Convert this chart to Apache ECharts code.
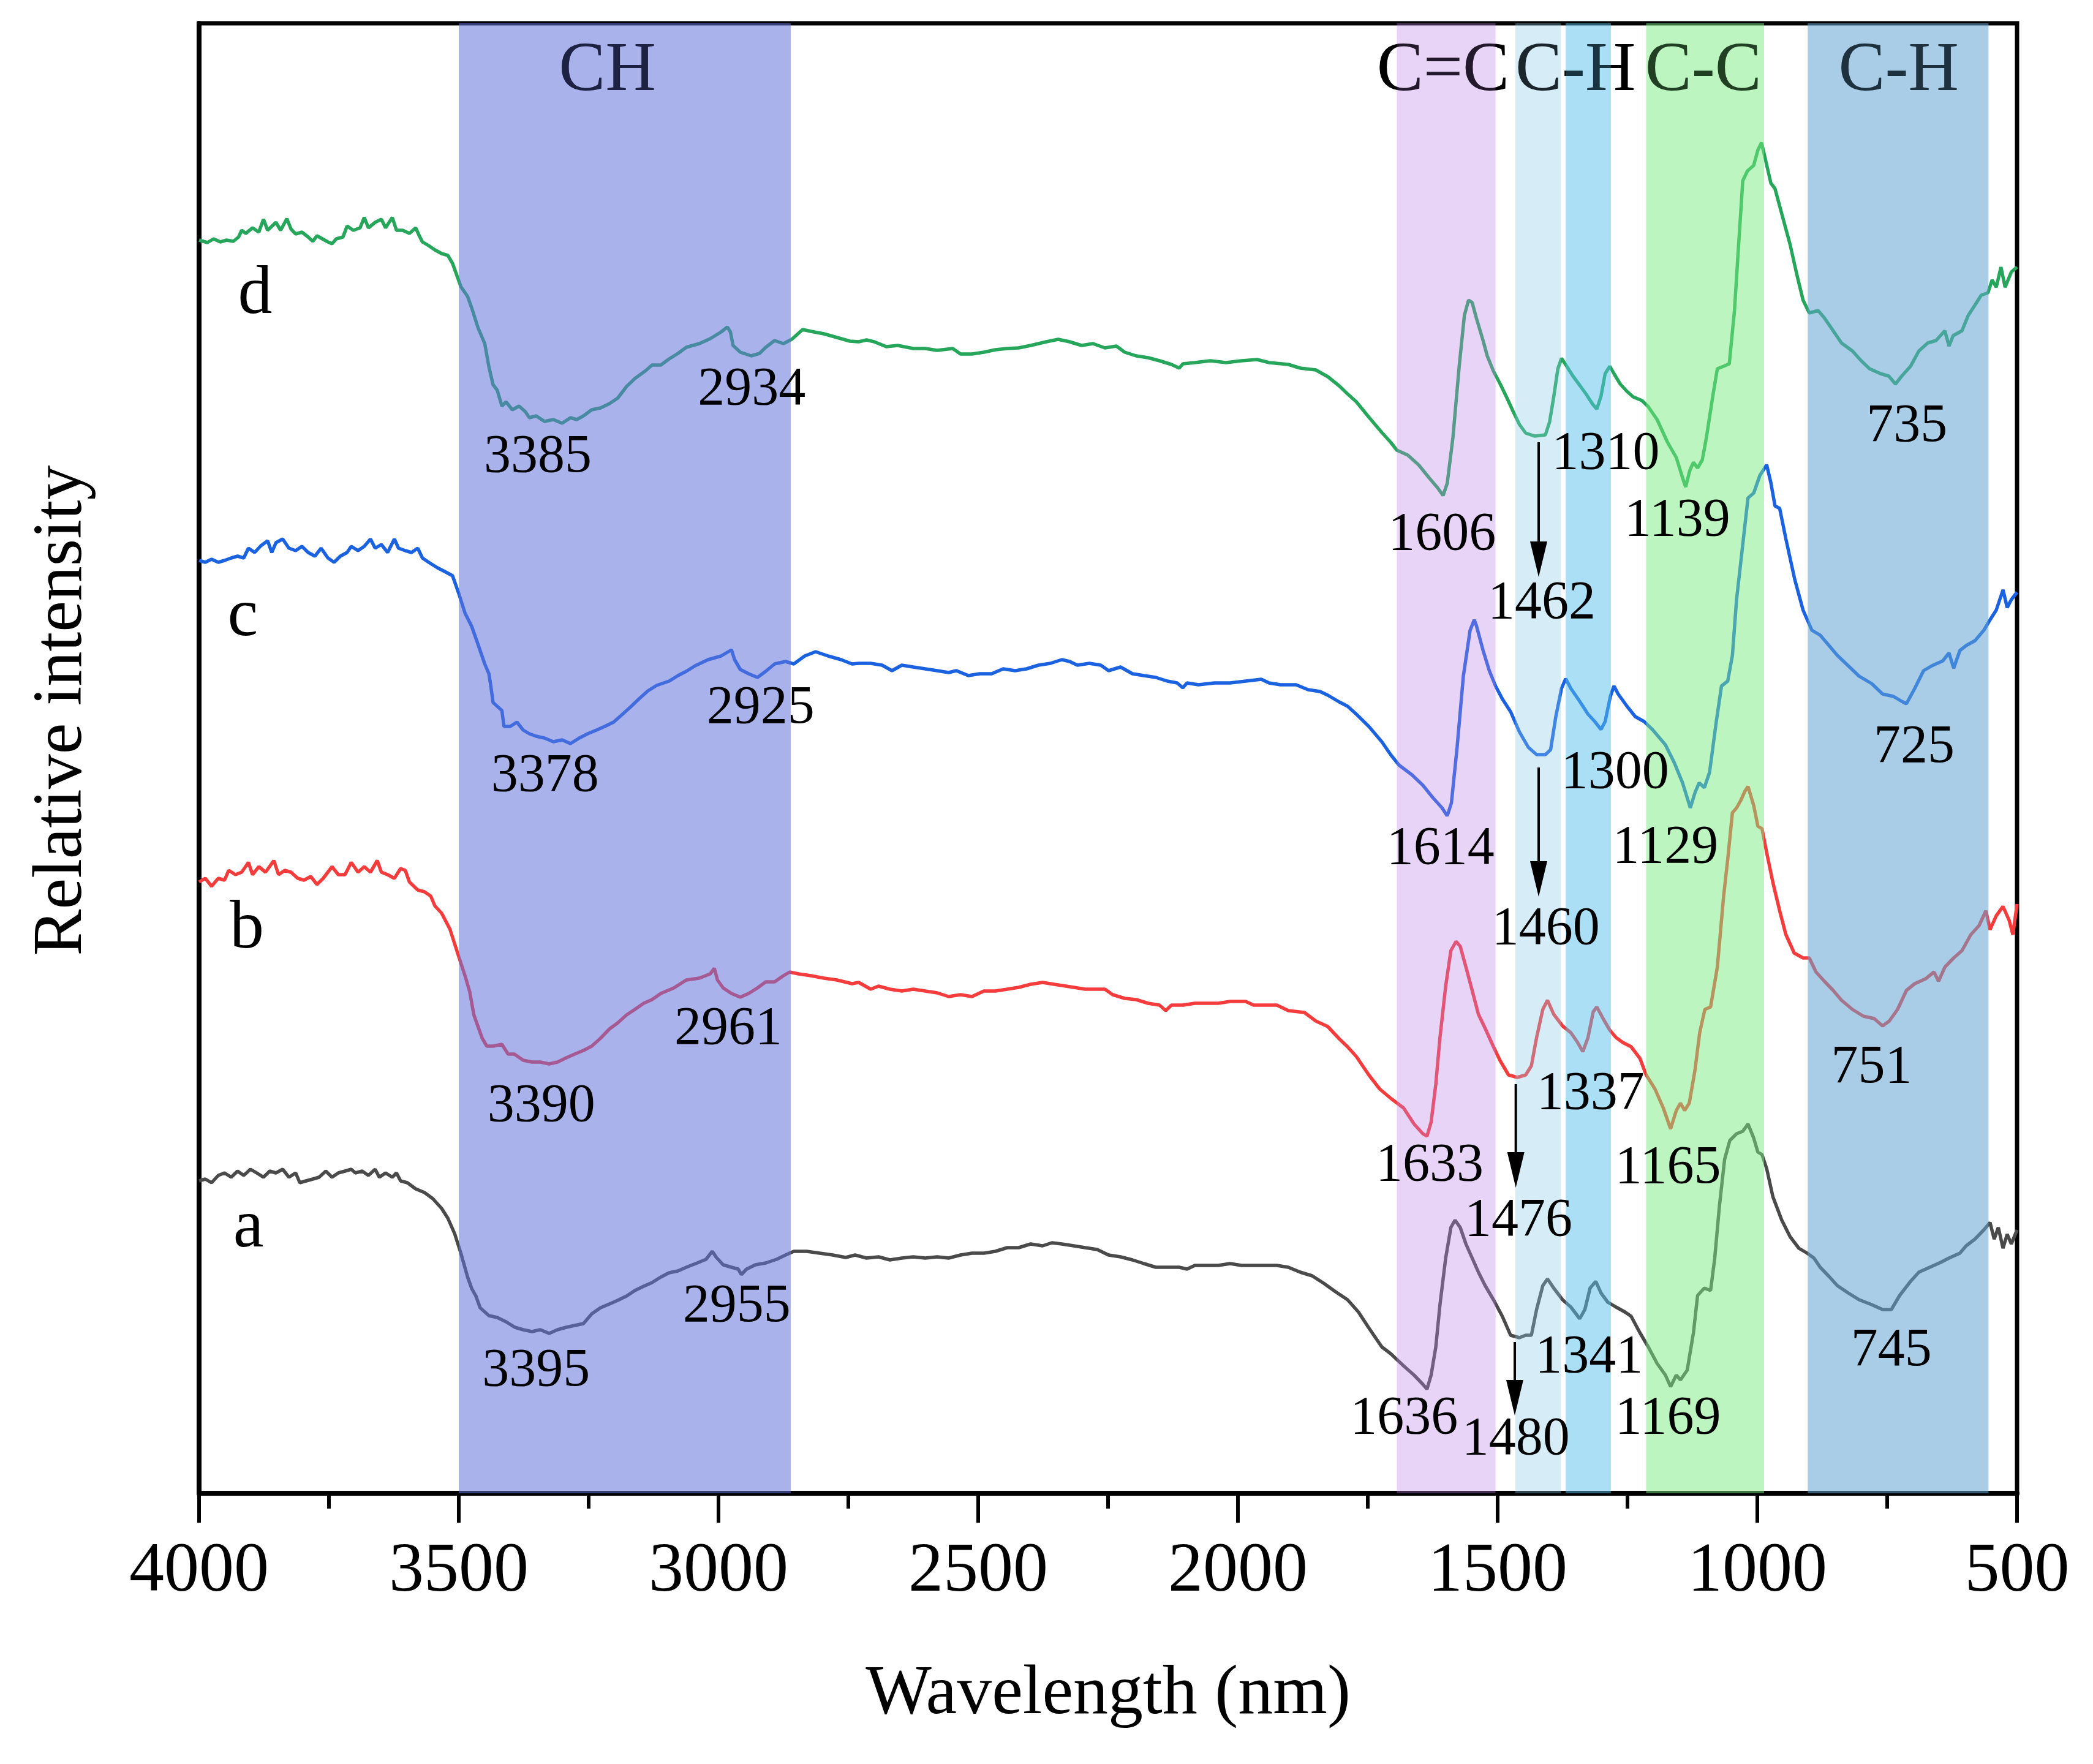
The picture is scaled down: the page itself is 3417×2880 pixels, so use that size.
<!DOCTYPE html>
<html>
<head>
<meta charset="utf-8">
<script src="https://cdn.jsdelivr.net/npm/echarts@6/dist/echarts.min.js"></script>
<style>
html,body{margin:0;padding:0;background:#fff;}
#chart{width:3417px;height:2880px;}
</style>
</head>
<body>
<div id="chart"></div>
<script>
// ---------------- DATA ----------------
// Wavelength (nm) and relative intensity (a.u.).
const curveD = [[4000,2046],[3984,2042],[3972,2048],[3959,2043],[3947,2046],[3934,2044],[3924,2051],[3918,2062],[3910,2057],[3897,2066],[3885,2059],[3876,2080],[3868,2062],[3852,2075],[3843,2062],[3831,2081],[3823,2064],[3814,2056],[3802,2059],[3790,2051],[3781,2044],[3773,2053],[3752,2043],[3744,2040],[3736,2048],[3723,2051],[3715,2069],[3703,2062],[3690,2066],[3682,2083],[3674,2066],[3661,2075],[3649,2080],[3641,2066],[3628,2083],[3620,2062],[3608,2062],[3595,2057],[3583,2066],[3576,2053],[3570,2043],[3558,2037],[3546,2030],[3533,2024],[3521,2021],[3512,2008],[3504,1989],[3496,1970],[3483,1954],[3475,1935],[3463,1903],[3450,1877],[3442,1839],[3434,1810],[3426,1801],[3417,1775],[3409,1782],[3397,1769],[3384,1775],[3372,1766],[3364,1756],[3351,1759],[3335,1750],[3318,1753],[3301,1747],[3285,1756],[3273,1753],[3260,1759],[3244,1769],[3227,1772],[3210,1779],[3194,1788],[3177,1807],[3161,1820],[3140,1833],[3128,1842],[3111,1842],[3095,1852],[3078,1861],[3062,1871],[3037,1877],[3016,1885],[2995,1896],[2983,1904],[2977,1896],[2972,1874],[2958,1863],[2937,1857],[2921,1861],[2909,1871],[2892,1882],[2875,1877],[2859,1884],[2838,1900],[2822,1897],[2797,1893],[2772,1887],[2747,1881],[2730,1880],[2715,1883],[2700,1880],[2677,1872],[2655,1874],[2625,1869],[2602,1869],[2579,1866],[2549,1869],[2534,1860],[2512,1860],[2489,1863],[2467,1867],[2444,1869],[2422,1870],[2399,1874],[2369,1880],[2346,1884],[2324,1880],[2301,1874],[2279,1877],[2256,1870],[2234,1873],[2218,1863],[2196,1857],[2173,1854],[2151,1849],[2128,1843],[2113,1837],[2106,1844],[2083,1846],[2053,1849],[2023,1846],[1993,1849],[1963,1851],[1940,1846],[1903,1843],[1880,1837],[1850,1834],[1827,1823],[1805,1808],[1789,1795],[1772,1782],[1748,1757],[1723,1732],[1706,1716],[1694,1703],[1673,1695],[1652,1679],[1632,1658],[1615,1641],[1605,1629],[1597,1649],[1586,1724],[1574,1840],[1564,1923],[1556,1948],[1549,1944],[1541,1919],[1528,1882],[1520,1857],[1508,1832],[1495,1811],[1483,1790],[1470,1766],[1458,1745],[1446,1731],[1429,1726],[1408,1728],[1400,1749],[1392,1790],[1384,1836],[1377,1853],[1367,1840],[1355,1824],[1342,1809],[1330,1795],[1317,1778],[1309,1770],[1301,1791],[1293,1828],[1284,1840],[1276,1828],[1264,1811],[1251,1799],[1239,1790],[1222,1784],[1210,1774],[1193,1753],[1173,1716],[1156,1691],[1144,1658],[1138,1643],[1130,1670],[1123,1683],[1115,1674],[1106,1687],[1098,1724],[1086,1790],[1077,1836],[1065,1840],[1054,1844],[1044,1931],[1036,2039],[1028,2143],[1019,2159],[1007,2168],[999,2193],[992,2205],[985,2180],[974,2139],[966,2130],[953,2089],[937,2039],[924,1990],[912,1948],[900,1927],[883,1931],[871,1919],[854,1898],[838,1878],[817,1865],[800,1849],[784,1836],[763,1828],[747,1824],[734,1811],[722,1824],[705,1840],[689,1865],[672,1878],[656,1882],[639,1898],[631,1873],[623,1890],[606,1898],[594,1923],[581,1940],[569,1956],[556,1960],[548,1981],[540,1969],[531,2002],[523,1969],[511,1994],[500,2002]];

const curveC = [[4000,1523],[3988,1520],[3976,1525],[3963,1520],[3951,1523],[3938,1527],[3926,1530],[3914,1527],[3905,1543],[3893,1536],[3881,1547],[3868,1555],[3860,1536],[3852,1552],[3839,1558],[3827,1543],[3814,1539],[3802,1546],[3790,1536],[3777,1530],[3765,1543],[3752,1527],[3740,1520],[3728,1530],[3715,1536],[3707,1546],[3694,1539],[3682,1546],[3670,1558],[3661,1543],[3649,1549],[3637,1536],[3624,1558],[3616,1543],[3603,1539],[3591,1536],[3579,1543],[3570,1527],[3558,1520],[3541,1511],[3525,1504],[3512,1498],[3500,1469],[3488,1437],[3475,1415],[3463,1386],[3450,1354],[3442,1338],[3438,1316],[3434,1291],[3417,1278],[3413,1252],[3401,1252],[3388,1259],[3376,1246],[3364,1240],[3351,1236],[3335,1233],[3318,1227],[3301,1230],[3285,1224],[3268,1233],[3252,1240],[3235,1246],[3219,1252],[3202,1259],[3186,1271],[3169,1284],[3153,1297],[3136,1310],[3119,1319],[3095,1326],[3078,1335],[3062,1342],[3045,1351],[3020,1361],[2995,1367],[2975,1377],[2969,1361],[2958,1345],[2942,1338],[2925,1332],[2909,1342],[2892,1354],[2871,1358],[2855,1354],[2834,1367],[2813,1374],[2789,1367],[2764,1361],[2743,1354],[2730,1355],[2707,1355],[2685,1352],[2666,1343],[2647,1352],[2625,1349],[2602,1346],[2579,1343],[2557,1340],[2542,1343],[2519,1335],[2497,1338],[2474,1338],[2452,1346],[2429,1343],[2407,1346],[2384,1352],[2361,1355],[2339,1361],[2324,1358],[2309,1352],[2286,1355],[2264,1352],[2249,1343],[2226,1349],[2203,1338],[2181,1335],[2158,1332],[2136,1326],[2117,1323],[2106,1315],[2098,1323],[2076,1320],[2045,1323],[2015,1323],[1985,1326],[1955,1329],[1940,1323],[1918,1320],[1888,1320],[1865,1312],[1842,1309],[1827,1303],[1805,1292],[1789,1285],[1772,1272],[1748,1252],[1723,1227],[1706,1206],[1690,1189],[1665,1173],[1644,1156],[1624,1135],[1607,1119],[1597,1106],[1589,1127],[1578,1218],[1566,1334],[1553,1409],[1545,1426],[1541,1417],[1528,1376],[1516,1343],[1504,1318],[1491,1297],[1475,1276],[1458,1243],[1441,1218],[1425,1206],[1408,1206],[1398,1214],[1388,1268],[1377,1314],[1369,1330],[1359,1314],[1342,1293],[1326,1272],[1313,1260],[1301,1247],[1293,1260],[1283,1301],[1276,1318],[1268,1305],[1251,1285],[1235,1268],[1218,1260],[1202,1247],[1177,1222],[1160,1193],[1144,1160],[1129,1119],[1120,1144],[1112,1160],[1102,1152],[1092,1177],[1079,1260],[1069,1318],[1057,1326],[1048,1368],[1040,1459],[1029,1542],[1018,1625],[1007,1633],[995,1662],[982,1679],[974,1650],[966,1612],[957,1608],[945,1558],[928,1492],[912,1442],[895,1409],[879,1401],[862,1384],[846,1368],[825,1351],[804,1334],[780,1322],[759,1305],[738,1301],[722,1293],[713,1289],[697,1314],[680,1343],[664,1351],[643,1359],[631,1372],[622,1347],[610,1376],[598,1384],[581,1392],[564,1409],[552,1426],[540,1442],[527,1475],[519,1446],[511,1459],[500,1471]];

const curveB = [[4000,998],[3988,1004],[3976,991],[3963,1004],[3951,1001],[3943,1017],[3930,1010],[3918,1014],[3905,1030],[3897,1010],[3885,1023],[3872,1014],[3856,1033],[3847,1010],[3835,1017],[3823,1014],[3810,1004],[3798,1001],[3785,1007],[3773,994],[3761,1004],[3744,1023],[3732,1010],[3719,1010],[3707,1030],[3694,1014],[3682,1023],[3670,1014],[3657,1033],[3649,1014],[3637,1010],[3624,1004],[3612,1020],[3603,1017],[3595,998],[3579,985],[3566,982],[3554,975],[3546,959],[3533,947],[3517,921],[3500,876],[3488,845],[3479,819],[3471,781],[3463,762],[3455,743],[3446,730],[3434,730],[3417,733],[3405,717],[3393,717],[3376,707],[3359,704],[3343,704],[3326,701],[3310,704],[3293,711],[3277,717],[3260,723],[3244,730],[3227,743],[3210,758],[3194,768],[3177,781],[3161,790],[3144,800],[3128,806],[3111,816],[3086,825],[3062,838],[3037,841],[3016,848],[3008,857],[3002,838],[2991,825],[2975,816],[2958,810],[2942,816],[2925,825],[2909,835],[2892,835],[2875,845],[2863,851],[2846,848],[2822,845],[2797,841],[2772,838],[2743,832],[2730,834],[2707,823],[2692,828],[2670,823],[2647,820],[2625,823],[2602,820],[2579,817],[2557,811],[2534,814],[2512,811],[2489,820],[2467,820],[2444,823],[2422,826],[2399,831],[2376,834],[2354,831],[2331,828],[2316,826],[2294,823],[2271,823],[2256,823],[2241,814],[2218,808],[2196,806],[2173,800],[2151,797],[2139,788],[2128,797],[2106,797],[2083,800],[2060,800],[2038,800],[2015,803],[1985,803],[1970,797],[1948,797],[1925,797],[1903,788],[1872,785],[1850,771],[1827,762],[1805,742],[1789,729],[1772,713],[1748,683],[1727,660],[1706,645],[1681,629],[1661,603],[1644,587],[1636,583],[1628,606],[1619,668],[1611,744],[1600,828],[1590,886],[1580,901],[1572,893],[1561,859],[1549,821],[1537,782],[1524,759],[1508,729],[1495,706],[1479,683],[1462,679],[1446,683],[1435,698],[1425,744],[1413,790],[1404,805],[1392,782],[1375,763],[1359,752],[1346,736],[1336,721],[1326,744],[1316,786],[1309,794],[1297,775],[1284,756],[1272,744],[1259,736],[1243,729],[1226,710],[1214,683],[1197,660],[1181,629],[1167,595],[1156,625],[1148,637],[1140,625],[1131,637],[1120,691],[1111,752],[1101,790],[1090,794],[1077,859],[1065,974],[1057,1035],[1048,1111],[1040,1119],[1032,1131],[1024,1146],[1018,1154],[1007,1123],[999,1089],[991,1085],[982,1046],[970,997],[957,951],[945,912],[929,882],[912,874],[900,874],[887,851],[871,836],[854,821],[838,805],[817,790],[796,779],[775,775],[759,763],[746,771],[730,790],[713,821],[697,832],[676,840],[660,851],[651,836],[639,859],[622,874],[606,886],[589,912],[573,927],[560,951],[552,920],[540,943],[527,958],[515,935],[508,912],[500,962]];

const curveA = [[4000,510],[3988,513],[3976,507],[3963,519],[3951,523],[3938,516],[3926,526],[3914,519],[3901,529],[3889,523],[3876,516],[3864,526],[3852,523],[3839,529],[3827,516],[3814,523],[3806,507],[3794,510],[3781,513],[3769,516],[3756,526],[3744,516],[3732,523],[3719,526],[3707,529],[3699,523],[3686,526],[3674,519],[3661,529],[3653,516],[3641,523],[3628,516],[3620,523],[3612,510],[3599,507],[3583,497],[3566,491],[3550,481],[3533,465],[3521,449],[3508,424],[3496,392],[3483,353],[3475,334],[3467,322],[3459,303],[3442,290],[3426,287],[3409,280],[3392,271],[3376,267],[3359,264],[3343,267],[3326,261],[3310,267],[3293,271],[3277,274],[3260,277],[3244,293],[3227,303],[3210,309],[3194,315],[3177,322],[3161,331],[3144,338],[3128,344],[3111,353],[3095,360],[3078,363],[3062,369],[3041,376],[3024,382],[3012,395],[3004,385],[2991,373],[2975,369],[2962,366],[2956,357],[2946,366],[2929,373],[2909,376],[2888,382],[2871,389],[2855,395],[2830,395],[2805,392],[2780,389],[2755,385],[2737,389],[2715,384],[2692,386],[2670,381],[2647,384],[2625,386],[2602,384],[2579,386],[2557,384],[2534,389],[2512,392],[2489,392],[2467,395],[2444,401],[2422,401],[2399,407],[2376,404],[2358,409],[2339,407],[2316,404],[2294,401],[2271,398],[2249,389],[2226,386],[2203,381],[2181,375],[2158,369],[2136,369],[2113,369],[2098,366],[2083,372],[2060,372],[2038,372],[2015,375],[1993,372],[1970,372],[1948,372],[1925,372],[1903,369],[1880,361],[1857,355],[1835,343],[1812,329],[1789,316],[1768,296],[1748,270],[1723,239],[1706,228],[1681,208],[1661,193],[1644,178],[1636,170],[1628,193],[1619,239],[1611,308],[1600,384],[1590,434],[1582,446],[1572,434],[1561,407],[1549,384],[1537,361],[1524,339],[1508,316],[1491,289],[1475,258],[1458,254],[1446,258],[1435,258],[1425,300],[1413,339],[1404,350],[1392,335],[1375,316],[1359,304],[1342,285],[1332,300],[1322,335],[1311,346],[1301,327],[1288,312],[1272,304],[1255,296],[1243,289],[1226,262],[1210,239],[1193,212],[1177,193],[1167,174],[1156,193],[1148,185],[1135,201],[1123,262],[1115,323],[1102,335],[1090,331],[1082,384],[1073,469],[1063,545],[1053,576],[1040,587],[1028,591],[1018,603],[1007,580],[999,557],[991,553],[982,530],[970,484],[953,446],[937,419],[920,400],[904,392],[891,384],[879,369],[862,354],[846,339],[825,327],[804,316],[780,308],[759,300],[742,300],[726,323],[705,346],[689,361],[668,369],[647,377],[631,384],[610,392],[598,404],[581,415],[564,430],[552,442],[544,415],[536,434],[527,400],[519,423],[511,407],[500,430]];

// Absorption bands: [name, from (nm), to (nm)]
const bandNames = ['CH', 'C=C', 'C-H', '', 'C-C', 'C-H'];
const bandFrom  = [3500, 1694, 1466, 1369, 1214, 903];
const bandTo    = [2861, 1504, 1378, 1282, 987, 555];
// band label anchor (wavelength, intensity)
const bandLabelW = [3214, 1605, 1350, null, 1104, 728];
const bandLabelV = 2321;

// Peak annotations: [text, wavelength, intensity]
const peakLabels = [
  ['3385',3348,1691],['2934',2936,1801],['1606',1607,1564],['1310',1292,1696],['1462',1415,1452],['1139',1154,1587],['735',712,1741],
  ['3378',3334,1170],['2925',2919,1281],['1614',1610,1051],['1300',1274,1175],['1460',1407,920],['1129',1177,1053],['725',698,1217],
  ['3390',3341,631],['2961',2981,757],['1633',1631,534],['1337',1321,651],['1476',1460,444],['1165',1172,530],['751',780,694],
  ['3395',3351,199],['2955',2965,304],['1636',1680,121],['1480',1465,87],['1341',1324,221],['1169',1172,121],['745',742,232]
];
// Curve names: [text, wavelength, intensity]
const curveLabels = [['d',3892,1956],['c',3916,1430],['b',3908,920],['a',3905,432]];
// Arrows: [wavelength, intensity at tail, intensity at tip]
const arrows = [[1421,1716,1496],[1421,1185,974],[1465,668,499],[1467,247,127]];

// ---------------- STYLE ----------------
const FONT = "'Liberation Serif','Times New Roman',serif";
const bandFill = ['rgba(101,115,220,0.55)','rgba(189,132,229,0.35)','rgba(138,201,232,0.35)','rgba(87,191,235,0.5)','rgba(121,235,127,0.5)','rgba(99,164,210,0.55)'];

const chart = echarts.init(document.getElementById('chart'), null, {renderer:'canvas'});

function textSeries(items, size, z, fill) {
  return {
    type:'custom', z:z, silent:true, clip:false,
    data: items.map(t => [t[1], t[2]]),
    encode:{x:0, y:1},
    renderItem:(params, api) => {
      const p = api.coord([api.value(0), api.value(1)]);
      return {type:'text', x:p[0], y:p[1],
        style:{text:items[params.dataIndex][0], fontSize:size, fontFamily:FONT, fill:fill || '#000', align:'center', verticalAlign:'middle'}};
    }
  };
}

const bandLabelItems = [];
bandNames.forEach((n,i)=>{ if(n) bandLabelItems.push([n, bandLabelW[i], bandLabelV]); });

const option = {
  animation:false,
  backgroundColor:'#fff',
  grid:{left:325, right:124, top:38, bottom:442, show:true, borderColor:'#000', borderWidth:7, backgroundColor:'transparent'},
  xAxis:{
    type:'value', inverse:true, min:500, max:4000, interval:500,
    name:'Wavelength (nm)', nameLocation:'middle', nameGap:272,
    nameTextStyle:{fontSize:114, fontFamily:FONT, color:'#000'},
    axisLine:{onZero:false, lineStyle:{color:'#000', width:8}},
    axisTick:{show:true, length:48, lineStyle:{color:'#000', width:6}},
    minorTick:{show:true, splitNumber:2, length:25, lineStyle:{color:'#000', width:6}},
    axisLabel:{fontSize:114, fontFamily:FONT, color:'#000', margin:72, formatter:(v)=>String(v)},
    splitLine:{show:false}
  },
  yAxis:{
    type:'value', min:0, max:2400,
    axisLine:{show:true, onZero:false, lineStyle:{color:'#000', width:8}},
    axisTick:{show:false}, axisLabel:{show:false}, splitLine:{show:false}
  },
  graphic:[{type:'text', x:102, y:1160, rotation:Math.PI/2,
    style:{text:'Relative intensity', fontSize:114, fontFamily:FONT, fill:'#000', align:'center', verticalAlign:'middle'}}],
  series:[
    {type:'line', name:'a', data:curveA, showSymbol:false, z:2, lineStyle:{color:'#4a4a4a', width:5.5}},
    {type:'line', name:'b', data:curveB, showSymbol:false, z:2, lineStyle:{color:'#f53c3c', width:5.5}},
    {type:'line', name:'c', data:curveC, showSymbol:false, z:2, lineStyle:{color:'#1a62e0', width:5.5}},
    {type:'line', name:'d', data:curveD, showSymbol:false, z:2, lineStyle:{color:'#26a65b', width:5.5}},
    textSeries(bandLabelItems, 114, 2),
    {
      type:'custom', z:3, silent:true, clip:false,
      data: bandFrom.map((f,i)=>[f, bandTo[i]]),
      encode:{x:[0,1]},
      renderItem:(params, api) => {
        const p1 = api.coord([api.value(0), 2400]);
        const p2 = api.coord([api.value(1), 0]);
        return {type:'rect', shape:{x:Math.min(p1[0],p2[0]), y:Math.min(p1[1],p2[1]), width:Math.abs(p2[0]-p1[0]), height:Math.abs(p2[1]-p1[1])},
          style:{fill:bandFill[params.dataIndex]}};
      }
    },
    // darken the tinted band titles a little (they sit under the coloured bands)
    textSeries(bandLabelItems, 114, 4, 'rgba(0,0,0,0.45)'),
    textSeries(peakLabels, 88, 5),
    textSeries(curveLabels, 112, 5),
    {
      type:'custom', z:5, silent:true, clip:false,
      data: arrows,
      encode:{x:0, y:[1,2]},
      renderItem:(params, api) => {
        const t = api.coord([api.value(0), api.value(1)]);
        const h = api.coord([api.value(0), api.value(2)]);
        const headLen = 58, headW = 28;
        return {type:'group', children:[
          {type:'line', shape:{x1:t[0], y1:t[1], x2:h[0], y2:h[1]-headLen+4}, style:{stroke:'#000', lineWidth:4}},
          {type:'polygon', shape:{points:[[h[0]-headW/2, h[1]-headLen],[h[0]+headW/2, h[1]-headLen],[h[0], h[1]]]}, style:{fill:'#000'}}
        ]};
      }
    }
  ]
};
chart.setOption(option);
</script>
</body>
</html>
